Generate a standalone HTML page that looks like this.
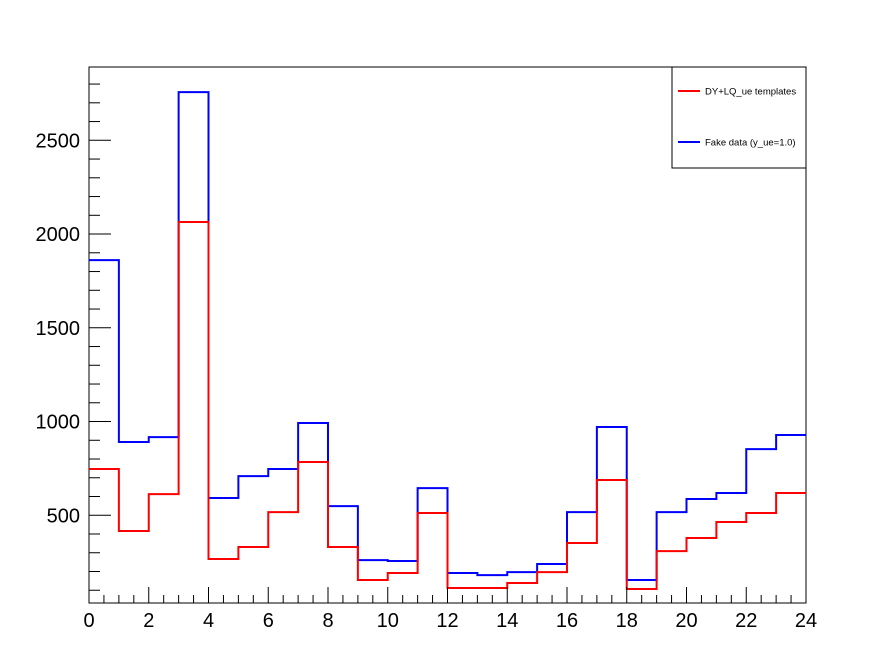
<!DOCTYPE html>
<html><head><meta charset="utf-8"><style>
body{margin:0;background:#fff;}
svg{display:block;font-family:"Liberation Sans",Arial,sans-serif;}
</style></head><body>
<svg id="c" width="896" height="672"></svg>
<script>
const binEdgesStart = 0;
const binWidth = 1;
const redValues = [747,416,613,2064,267,331,517,784,331,155,192,512,112,112,139,197,352,688,107,309,379,464,512,619];
const blueValues = [1861,891,917,2757,592,709,747,992,549,261,256,645,192,181,197,240,517,971,155,517,587,619,853,928];
const xTickLabels = [0,2,4,6,8,10,12,14,16,18,20,22,24];
const yTickLabels = [500,1000,1500,2000,2500];
const NS='http://www.w3.org/2000/svg';
const svg=document.getElementById('c');
const L=89,R=806,T=67,B=603;
const xMin=0,xMax=24,yMin=32,yMax=2891;
const X=v=>L+(v-xMin)/(xMax-xMin)*(R-L);
const Y=v=>B-(v-yMin)/(yMax-yMin)*(B-T);
function el(t,a){const e=document.createElementNS(NS,t);for(const k in a)e.setAttribute(k,a[k]);svg.appendChild(e);return e;}
const frame=el('rect',{x:L,y:T,width:R-L,height:B-T,fill:'none',stroke:'#000','stroke-width':1});


function hist(vals,color,name){
  let d='';
  vals.forEach((v,i)=>{const x0=X(binEdgesStart+i*binWidth),x1=X(binEdgesStart+(i+1)*binWidth),y=Y(v);
    d+=(i===0?'M':'L')+x0+','+y+' L'+x1+','+y+' ';});
  const p=el('path',{d:d,fill:'none',stroke:color,'stroke-width':2});
  
  
}
hist(blueValues,'#0000ff','fake-data-histogram');
hist(redValues,'#ff0000','templates-histogram');
// x ticks
for(let v=0;v<=24;v+=0.5){
  const major=(v%2===0);
  const t=el('line',{x1:X(v),x2:X(v),y1:B,y2:B-(major?16:8),stroke:'#000','stroke-width':1});
  
  
}
xTickLabels.forEach(v=>{
  const t=el('text',{x:X(v),y:627,'font-size':20,'text-anchor':'middle'});
  t.textContent=v;
  
  
});
// y ticks
for(let v=100;v<=2800;v+=100){
  const major=(v%500===0);
  const t=el('line',{x1:L,x2:L+(major?22:11),y1:Y(v),y2:Y(v),stroke:'#000','stroke-width':1});
  
  
}
yTickLabels.forEach(v=>{
  const t=el('text',{x:80,y:Y(v)+7,'font-size':20,'text-anchor':'end'});
  t.textContent=v;
  
  
});
// legend
const lg=el('rect',{x:672,y:67,width:134,height:101,fill:'#fff',stroke:'#000','stroke-width':1});


[['#ff0000','DY+LQ_ue templates',91,'legend-entry-templates'],['#0000ff','Fake data (y_ue=1.0)',142,'legend-entry-fake-data']].forEach(e=>{
  const ln=el('line',{x1:678,x2:700,y1:e[2],y2:e[2],stroke:e[0],'stroke-width':2});
  
  
  const t=el('text',{x:705,y:e[2]+3.5,'font-size':9.5});
  t.textContent=e[1];
  
  
});
</script>
</body></html>
